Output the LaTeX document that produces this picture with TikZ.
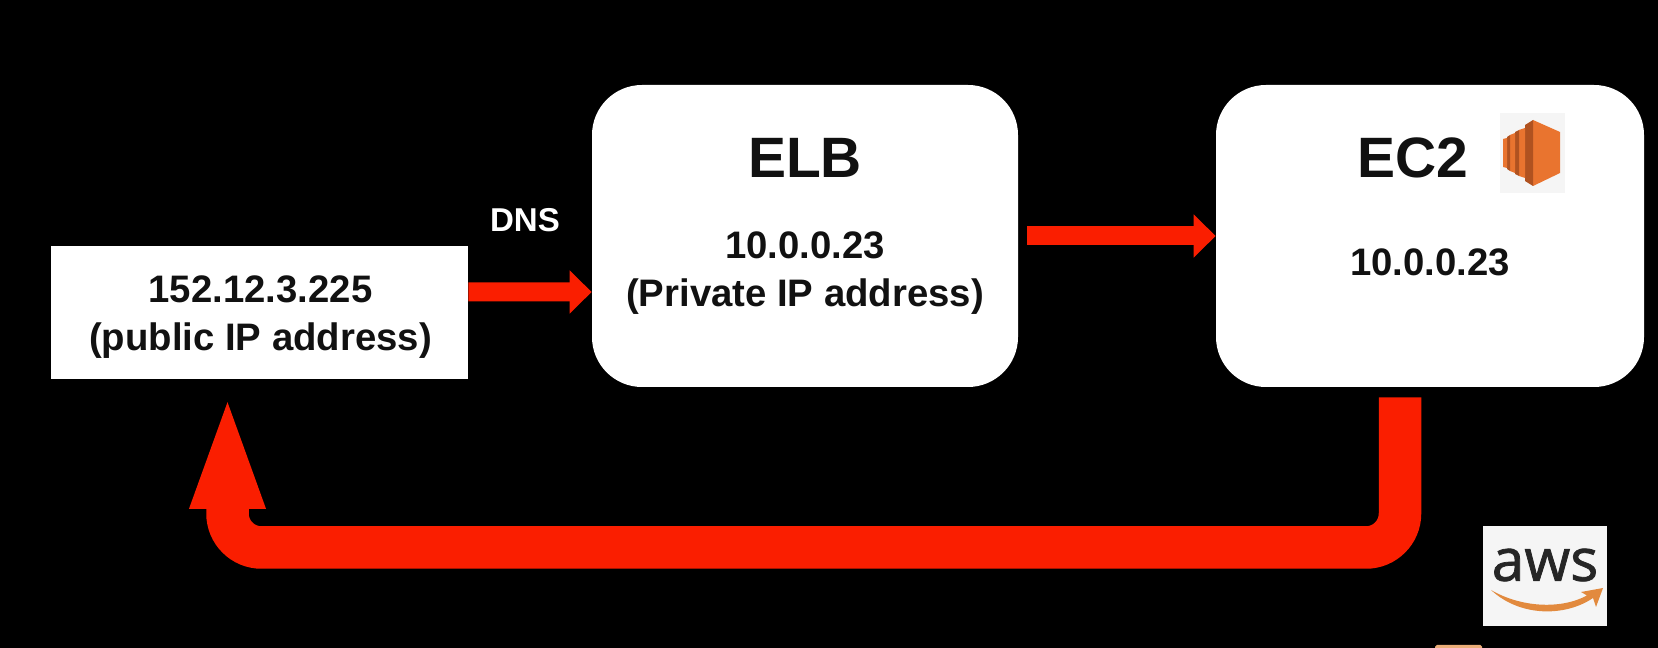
\documentclass[tikz,border=0pt]{standalone}
\usepackage{fontspec}
\setmainfont{Liberation Sans}
\newfontfamily\awsfont[FakeBold=1.3]{Open Sans}
\definecolor{flowred}{RGB}{250, 30, 0}
\definecolor{awsorange}{RGB}{233, 116, 47}
\definecolor{awsdark}{RGB}{176, 82, 32}
\definecolor{awssmile}{RGB}{226, 138, 62}
\definecolor{logopaper}{RGB}{245, 245, 245}
\definecolor{inktext}{RGB}{17, 17, 17}
\usetikzlibrary{arrows.meta, calc}
\tikzset{
  ipbox/.style={fill=white, inner sep=0pt},
  svcbox/.style={ipbox, rounded corners=1cm},
  svctitle/.style={text=inktext, inner sep=0pt, font=\fontsize{32.4}{38}\selectfont\bfseries},
  svctext/.style={text=inktext, inner sep=0pt, align=center, font=\fontsize{21.8}{27.6}\selectfont\bfseries},
  flowarrow/.style={draw=flowred, line width=0.38cm, -{Triangle[length=0.44cm, width=0.84cm]}},
  backarrow/.style={draw=flowred, line width=0.85cm, rounded corners=0.68cm, -{Triangle[length=2.36cm, width=1.32cm]}}
}

\begin{document}
\begin{tikzpicture}
  \useasboundingbox[fill=black] (0, 0) rectangle (33.16, 12.96);

  \node[ipbox, minimum width=8.34cm, minimum height=2.66cm] (pub) at (5.19, 6.70) {};
  \node[svcbox, minimum width=8.52cm, minimum height=6.04cm] (elb) at (16.10, 8.24) {};
  \node[svcbox, minimum width=8.56cm, minimum height=6.04cm] (ec2) at (28.60, 8.24) {};

  \node[svctext] (pubaddr) at (5.21, 6.62) {152.12.3.225\\(public IP address)};
  \node[svctitle] (elbname) at (16.10, 9.80) {ELB};
  \node[svctext] (elbaddr) at (16.10, 7.50) {10.0.0.23\\(Private IP address)};
  \node[svctitle] (ec2name) at (28.26, 9.80) {EC2};
  \node[svctext] (ec2addr) at (28.60, 7.72) {10.0.0.23};
  \node[text=white, inner sep=0pt, font=\fontsize{18.8}{22}\selectfont\bfseries] (dns) at (10.50, 8.56) {DNS};

  % arrows
  \draw[flowarrow] ([yshift=0.42cm]pub.east) -- ([yshift=-1.12cm]elb.west);
  \draw[flowarrow, shorten <=0.18cm] (elb.east) -- (ec2.west);

  \coordinate (barlevel) at (0, 2.01);
  \coordinate (backstart) at ($(ec2.south)+(-0.60, 0)$);
  \coordinate (backend) at ($(pub.south)+(-0.64, 0)$);
  \draw[backarrow, shorten <=0.2cm, shorten >=0.22cm] (backstart) -- (backstart |- barlevel) -- (backend |- barlevel) -- (backend);

  % EC2 icon
  \fill[logopaper] (30.00, 10.70) rectangle (31.30, 9.10);
  \fill[awsorange] (30.66, 10.56) -- (31.20, 10.32) -- (31.20, 9.50) -- (30.66, 9.24) -- cycle;
  \fill[awsdark] (30.66, 10.56) -- (30.50, 10.46) -- (30.50, 9.34) -- (30.66, 9.24) -- cycle;
  \fill[awsorange] (30.50, 10.40) -- (30.38, 10.36) -- (30.38, 9.44) -- (30.50, 9.40) -- cycle;
  \fill[awsdark] (30.38, 10.36) -- (30.30, 10.32) -- (30.30, 9.48) -- (30.38, 9.44) -- cycle;
  \fill[awsorange] (30.30, 10.30) -- (30.20, 10.26) -- (30.20, 9.54) -- (30.30, 9.50) -- cycle;
  \fill[awsdark] (30.20, 10.26) -- (30.14, 10.22) -- (30.14, 9.58) -- (30.20, 9.54) -- cycle;
  \fill[awsorange] (30.14, 10.20) -- (30.06, 10.18) -- (30.06, 9.62) -- (30.14, 9.60) -- cycle;

  % AWS logo
  \node[fill=logopaper, minimum width=2.48cm, minimum height=2.00cm, inner sep=0pt] (awslogo) at (30.90, 1.44) {};
  \node[text=black!85, inner sep=0pt, font=\awsfont\fontsize{33.5}{34}\selectfont] (awsword) at (30.90, 1.66) {aws};
  \fill[awssmile] (29.82, 1.16) .. controls (30.40, 0.82) and (31.20, 0.76) .. (31.74, 1.05)
    -- (31.62, 1.12) -- (32.06, 1.20) -- (31.92, 0.82) -- (31.86, 1.00)
    .. controls (31.30, 0.62) and (30.40, 0.62) .. cycle;

  % scrap at the lower edge
  \fill[rounded corners=1pt, fill=awssmile!70!white] (28.70, -0.10) rectangle (29.64, 0.06);
\end{tikzpicture}
\end{document}
